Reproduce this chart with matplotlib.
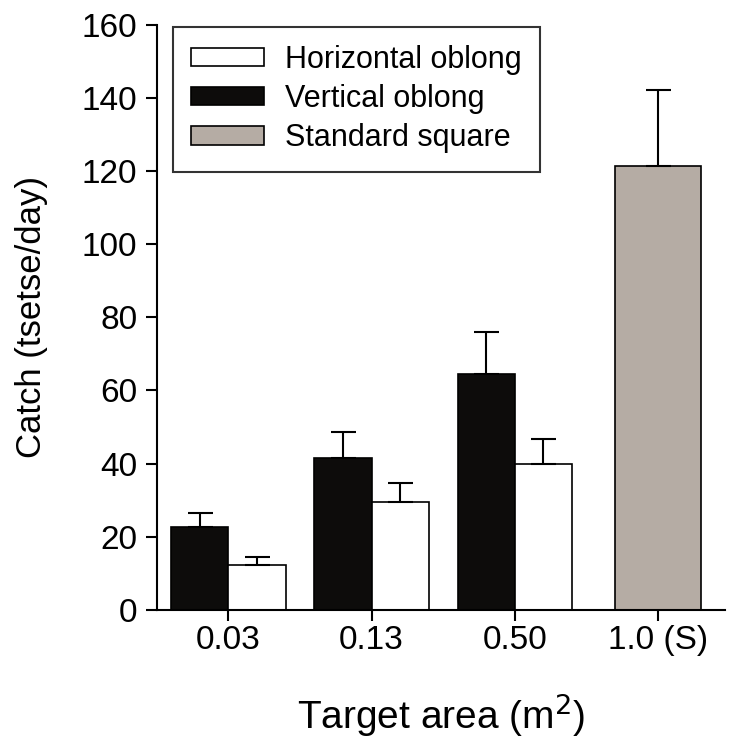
import numpy as np
import matplotlib
matplotlib.use("Agg")
import matplotlib.pyplot as plt

plt.rcParams['font.family'] = ['Liberation Sans', 'DejaVu Sans']

areas = ['0.03', '0.13', '0.50', '1.0 (S)']
vertical = [22.7, 41.6, 64.4]
vertical_se = [3.9, 7.1, 11.5]
horizontal = [12.3, 29.6, 40.0]
horizontal_se = [2.2, 5.2, 6.8]
standard = [121.4]
standard_se = [20.8]

fig = plt.figure(figsize=(7.29, 7.52), dpi=100)
ax = fig.add_axes([0.215, 0.189, 0.78, 0.778])

x = np.arange(len(areas))
w = 0.4
err_kw = dict(ecolor='black', elinewidth=1.5, capsize=9, capthick=1.5)

ax.bar(x[:3] - w / 2, vertical, w, color='#0d0c0b', edgecolor='black',
       linewidth=1.2, yerr=[np.zeros(3), vertical_se], error_kw=err_kw,
       label='Vertical oblong')
ax.bar(x[:3] + w / 2, horizontal, w, color='white', edgecolor='black',
       linewidth=1.2, yerr=[np.zeros(3), horizontal_se], error_kw=err_kw,
       label='Horizontal oblong')
ax.bar(x[3:], standard, 0.6, color='#b5aca4', edgecolor='black',
       linewidth=1.2, yerr=[[0], standard_se], error_kw=err_kw,
       label='Standard square')

ax.set_xlim(-0.5, 3.47)
ax.set_ylim(0, 160)
ax.set_yticks(np.arange(0, 161, 20))
ax.set_xticks(x)
ax.set_xticklabels(areas)

for s in ['top', 'right']:
    ax.spines[s].set_visible(False)
for s in ['left', 'bottom']:
    ax.spines[s].set_linewidth(1.5)
ax.tick_params(axis='both', direction='out', length=8, width=1.5,
               labelsize=24)
ax.tick_params(axis='x', pad=3)
ax.tick_params(axis='y', pad=6)

ax.set_ylabel('Catch (tsetse/day)', fontsize=25, labelpad=24)
ax.set_xlabel('Target area (m$^2$)', fontsize=28, labelpad=25)

handles, labels = ax.get_legend_handles_labels()
order = [1, 0, 2]
leg = ax.legend([handles[i] for i in order], [labels[i] for i in order],
                loc='upper left', bbox_to_anchor=(0.028, 0.997),
                borderaxespad=0, fontsize=22,
                frameon=True, fancybox=False, edgecolor='black',
                handlelength=2.4, handleheight=0.55, labelspacing=0.3,
                borderpad=0.6, handletextpad=0.67)
leg.get_frame().set_linewidth(1.5)

fig.savefig('out.png', dpi=100)
